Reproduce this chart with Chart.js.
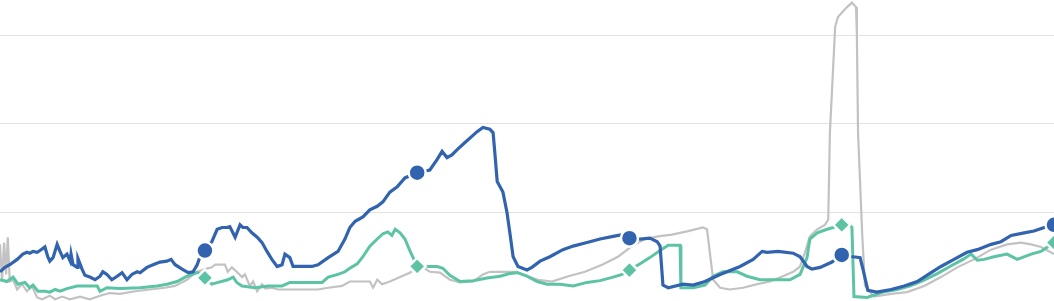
<!DOCTYPE html>
<html>
<head>
<meta charset="utf-8">
<script src="https://cdn.jsdelivr.net/npm/chart.js@4.4.1/dist/chart.umd.min.js"></script>
<style>
    html, body { margin: 0; padding: 0; background: #fff; }
    #wrap { position: relative; width: 1054px; height: 301px; }
</style>
</head>
<body>
<div id="wrap"><canvas id="trend-chart"></canvas></div>
<script>
// x = week number, y = index value (gridlines every 100)
const markerWeeks = [52, 104, 156, 208, 260];
const gridValues = [100, 200, 300];

const blueWeeks = [1.8,3.0,4.2,6.0,7.4,8.4,9.1,9.9,10.9,11.6,12.8,13.5,14.0,14.8,15.8,16.5,17.2,18.2,19.0,19.2,
    19.7,20.7,20.9,21.9,22.6,23.8,25.1,26.3,27.0,28.0,29.2,30.5,31.7,32.9,34.1,35.4,36.1,37.8,39.3,41.0,
    42.7,43.7,44.7,46.4,47.9,49.1,50.1,50.8,52,53.7,55.0,56.2,57.4,58.1,59.4,60.6,61.3,62.3,63.5,64.8,
    66.0,67.2,68.4,69.7,70.9,71.6,72.8,73.6,75.8,78.2,79.7,82.2,84.6,86.3,87.5,88.8,90.7,92.4,94.2,95.6,
    97.3,99.1,101.0,104,107.1,108.9,110.1,111.3,112.5,113.8,115.7,117.4,118.6,120.1,121.8,122.6,123.1,123.6,125.0,126.0,
    126.7,127.5,128.7,130.9,132.1,134.1,136.5,139.7,142.2,145.6,148.8,152.0,154.2,156,158.6,161.0,162.8,163.5,164.2,165.5,
    169.1,171.6,174.5,178.2,183.1,186.3,188.5,189.7,192.4,196.1,197.8,199.5,200.7,202.7,205.6,208,210.8,212.5,213.2,214.4,
    216.6,220.1,223.3,226.5,229.9,232.3,235.5,238.7,241.2,244.6,247.0,249.5,252.7,255.1,257.6,260];
const blueValues = [33,38,41,47,53,55,54,56,55,57,61,50,45,49,64,56,49,53,45,53,
    41,38,48,36,29,27,24,28,33,30,24,28,32,24,30,33,32,38,41,44,
    45,47,41,36,32,33,41,50,57,67,81,83,83,84,72,86,83,83,77,72,
    66,56,47,39,41,53,49,39,39,39,41,49,56,70,83,90,95,103,107,112,
    123,129,139,145,148,160,169,162,165,171,179,186,191,196,194,190,163,135,123,100,
    77,50,39,35,38,45,50,58,62,66,70,73,75,71,70,71,67,62,18,15,
    19,18,22,30,39,47,56,55,56,54,50,39,36,38,44,52,50,49,36,12,
    10,13,17,22,32,39,47,55,58,64,67,74,77,79,83,86];

const greenWeeks = [1.8,3.5,5.0,6.2,7.9,9.1,9.9,11.1,12.8,14.0,15.3,16.5,18.2,20.7,23.1,25.6,26.3,28.0,31.2,36.1,
    40.3,42.7,45.2,47.6,50.1,51.3,52,53.7,55.2,57.6,58.9,59.8,61.1,64.3,67.5,70.9,72.8,75.8,80.7,82.2,
    84.6,86.3,87.5,89.3,90.7,92.4,94.2,95.6,96.8,97.8,98.6,99.8,101.0,102.2,103.0,104,106.4,108.9,110.3,112.0,
    114.5,117.7,121.1,124.3,126.7,128.5,130.9,133.4,135.8,139.0,142.2,145.6,148.8,152.0,154.2,156,158.6,161.0,163.5,165.5,
    168.4,168.6,171.6,174.5,176.5,178.9,182.4,184.8,188.0,195.3,197.8,199.5,200.2,202.0,204.4,205.9,208,210.0,210.5,211.0,
    214.2,218.1,221.6,224.8,227.9,231.4,234.5,237.7,239.7,241.2,242.9,245.3,248.5,251.0,254.4,256.8,260];
const greenValues = [24,22,27,19,21,15,18,11,11,10,13,11,14,17,17,17,11,15,14,15,
    17,19,22,28,32,30,26,19,21,24,27,21,17,15,17,17,21,21,21,27,
    30,33,37,42,50,62,70,76,78,74,81,77,70,57,49,39,39,39,37,29,
    22,23,26,28,31,32,28,22,19,19,17,21,23,27,30,35,42,49,57,63,
    63,15,15,18,28,33,33,28,24,24,30,49,70,77,81,83,86,86,83,5,
    4,10,13,17,23,31,39,47,53,46,47,50,53,47,53,56,66];

const greyWeeks = [1.8,2.3,2.8,3.3,3.7,4.2,5.0,6.0,7.2,8.4,9.6,10.9,12.1,14.0,15.3,17.0,18.9,21.4,23.8,26.3,
    28.7,31.2,34.9,38.5,42.2,44.7,47.6,49.6,52.0,53.7,54.5,56.9,57.6,58.6,59.8,61.1,61.8,63.0,63.8,64.8,
    66.0,66.8,68.4,69.9,74.1,79.7,82.2,85.6,87.5,90.7,92.4,93.2,94.2,95.4,97.3,99.8,102.2,103.5,104.2,105.4,
    107.1,109.6,112.0,114.5,117.7,120.1,121.8,126.0,128.5,129.9,131.6,133.6,137.0,141.0,145.1,149.3,153.2,156.6,159.8,163.0,
    166.4,170.4,174.0,175.0,176.5,178.2,180.6,183.8,187.3,190.4,193.6,196.1,197.8,199.0,200.2,202.0,203.9,204.7,205.1,206.4,
    207.1,209.3,210.5,211.5,211.7,212.0,213.0,213.7,214.9,215.9,220.1,224.0,228.2,232.3,236.3,240.4,244.6,248.5,251.9,254.4,
    256.8,260];
const greyValues = [64,22,66,30,72,22,24,13,19,11,17,4,2,6,2,5,2,5,2,6,
    9,8,11,13,15,17,24,32,36,38,41,41,33,38,33,27,30,17,22,11,
    19,14,15,13,13,13,15,17,22,22,22,15,24,19,22,27,32,36,32,38,
    33,32,24,21,22,30,33,33,33,30,27,24,22,28,33,41,50,62,70,73,
    75,79,83,81,24,15,13,15,19,22,28,33,39,55,73,81,86,92,190,310,
    321,332,337,332,303,190,77,17,10,5,8,10,17,27,38,47,58,64,66,64,
    61,53];

const toPoints = (xs, ys) => xs.map((x, i) => ({ x, y: ys[i] }));
const markerRadius = size => ctx => markerWeeks.includes(ctx.raw && ctx.raw.x) ? size : 0;

new Chart(document.getElementById('trend-chart'), {
    type: 'line',
    data: {
        datasets: [
            {
                label: 'Series A',
                data: toPoints(blueWeeks, blueValues),
                borderColor: '#3163af',
                backgroundColor: '#3163af',
                borderWidth: 3.2,
                pointStyle: 'circle',
                pointRadius: markerRadius(8.5),
                pointBorderColor: '#ffffff',
                pointBorderWidth: 2.5,
                tension: 0
            },
            {
                label: 'Series B',
                data: toPoints(greenWeeks, greenValues),
                borderColor: '#5cc3a5',
                backgroundColor: '#5cc3a5',
                borderWidth: 3,
                pointStyle: 'rectRot',
                pointRadius: markerRadius(8.5),
                pointBorderColor: '#ffffff',
                pointBorderWidth: 2.5,
                tension: 0
            },
            {
                label: 'Series C',
                data: toPoints(greyWeeks, greyValues),
                borderColor: '#c2c2c2',
                borderWidth: 2.2,
                pointRadius: 0,
                tension: 0
            }
        ]
    },
    options: {
        responsive: true,
        maintainAspectRatio: false,
        animation: false,
        events: [],
        layout: { padding: 0, autoPadding: false },
        plugins: {
            legend: { display: false },
            tooltip: { enabled: false }
        },
        scales: {
            x: {
                type: 'linear',
                display: false,
                min: 1.8,
                max: 260
            },
            y: {
                min: 0,
                max: 340,
                border: { display: false },
                ticks: { display: false },
                grid: { color: '#e2e2e2', lineWidth: 1, drawTicks: false },
                afterBuildTicks: axis => {
                    axis.ticks = gridValues.map(v => ({ value: v }));
                }
            }
        }
    }
});
</script>
</body>
</html>
